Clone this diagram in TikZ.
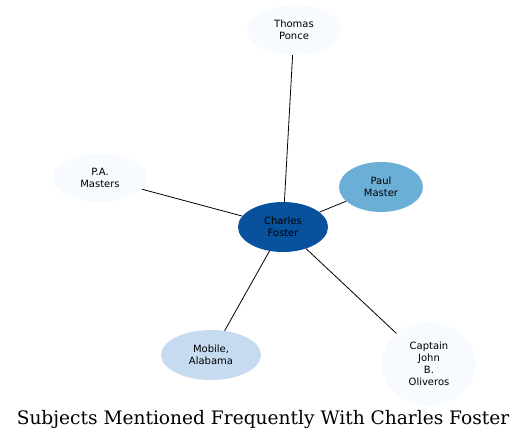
\documentclass[tikz,border=0pt]{standalone}
\usepackage{fontspec}
\setmainfont{DejaVu Serif}
\setsansfont{DejaVu Sans}
\usetikzlibrary{shapes.geometric}

\definecolor{hubblue}{HTML}{08519C}
\definecolor{midblue}{HTML}{6BAED6}
\definecolor{lightblue}{HTML}{C6DBEF}
\definecolor{paleblue}{HTML}{F7FBFF}

\begin{document}
\begin{tikzpicture}[x=1pt, y=-1pt,
    subject/.style={ellipse, draw=none, inner sep=0pt, align=center,
        font=\sffamily\fontsize{10}{12}\selectfont},
    link/.style={black, line width=0.8pt}]
        % --- 1. Canvas ---
        \useasboundingbox (0,0) rectangle (531,441);

        % --- 2. Subjects ---
        \node[subject, fill=hubblue, minimum width=90pt, minimum height=50pt] (foster) at (283,227) {Charles\\Foster};
        \node[subject, fill=midblue, minimum width=84pt, minimum height=50pt] (paul) at (381,187) {Paul\\Master};
        \node[subject, fill=paleblue, minimum width=94pt, minimum height=50pt] (ponce) at (294,30) {Thomas\\Ponce};
        \node[subject, fill=paleblue, minimum width=94pt, minimum height=48pt] (masters) at (100,178) {P.A.\\Masters};
        \node[subject, fill=lightblue, minimum width=100pt, minimum height=50pt] (mobile) at (211,355) {Mobile,\\Alabama};
        \node[subject, fill=paleblue, minimum width=94pt, minimum height=84pt] (oliveros) at (429,364) {Captain\\John\\B.\\Oliveros};

        % --- 3. Links ---
        \draw[link] (foster) -- (ponce);
        \draw[link] (foster) -- (paul);
        \draw[link] (foster) -- (masters);
        \draw[link] (foster) -- (mobile);
        \draw[link] (foster) -- (oliveros);

        % --- 4. Title ---
        \node[font=\fontsize{18.6}{22}\selectfont] (title) at (263,420) {Subjects Mentioned Frequently With Charles Foster};
    \end{tikzpicture}
\end{document}
